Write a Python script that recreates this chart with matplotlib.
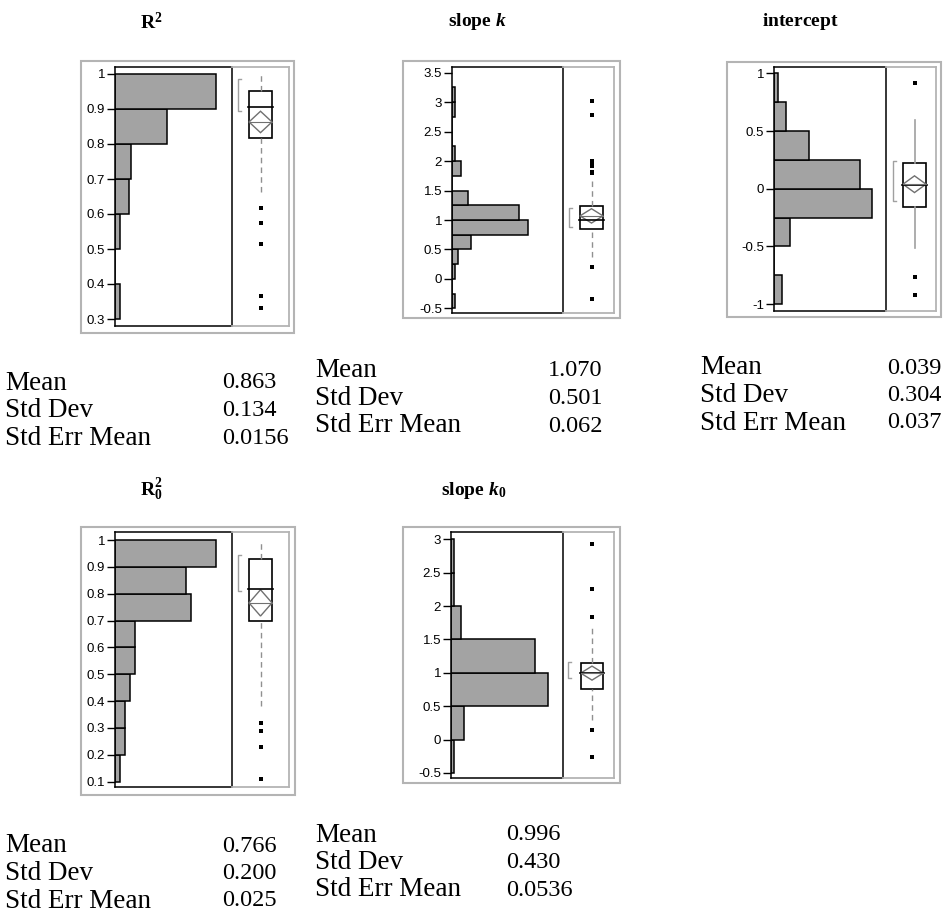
import numpy as np
import matplotlib
matplotlib.use('Agg')
import matplotlib.pyplot as plt
from matplotlib.patches import Rectangle, Polygon

W, H = 943, 915

plt.rcParams['font.family'] = ['Liberation Sans', 'DejaVu Sans']
plt.rcParams['mathtext.fontset'] = 'custom'
plt.rcParams['mathtext.rm'] = 'Liberation Serif:bold'
plt.rcParams['mathtext.it'] = 'Liberation Serif:bold:italic'
plt.rcParams['mathtext.bf'] = 'Liberation Serif:bold'

# ---- data ----
stat_names = ['Mean', 'Std Dev', 'Std Err Mean']

# R^2
r2_edges = [0.3, 0.4, 0.5, 0.6, 0.7, 0.8, 0.9, 1.0]
r2_counts = [2, 0, 2, 5, 6, 19, 37]
r2_ticks = [0.3, 0.4, 0.5, 0.6, 0.7, 0.8, 0.9, 1.0]
r2_quant = [0.664, 0.818, 0.905, 0.95, 1.0]      # whisker lo, q1, median, q3, whisker hi
r2_shorth = [0.895, 0.985]
r2_outliers = [0.618, 0.575, 0.514, 0.367, 0.332]
r2_stats = ['0.863', '0.134', '0.0156']

# slope k
k_edges = [-0.5, -0.25, 0, 0.25, 0.5, 0.75, 1.0, 1.25, 1.5, 1.75, 2.0, 2.25, 2.5, 2.75, 3.0, 3.25]
k_counts = [1, 0, 1, 2, 6, 24, 21, 5, 0, 3, 1, 0, 0, 1, 1]
k_ticks = [-0.5, 0, 0.5, 1, 1.5, 2, 2.5, 3, 3.5]
k_quant = [0.38, 0.842, 1.0, 1.237, 1.68]
k_shorth = [0.876, 1.198]
k_outliers = [3.02, 2.78, 2.0, 1.96, 1.915, 1.82, 1.79, 0.198, -0.345]
k_stats = ['1.070', '0.501', '0.062']

# intercept
b_edges = [-1.0, -0.75, -0.5, -0.25, 0, 0.25, 0.5, 0.75, 1.0]
b_counts = [2, 0, 4, 25, 22, 9, 3, 1]
b_ticks = [-1, -0.5, 0, 0.5, 1]
b_quant = [-0.51, -0.156, 0.032, 0.22, 0.595]
b_shorth = [-0.104, 0.243]
b_outliers = [0.913, -0.77, -0.92]
b_stats = ['0.039', '0.304', '0.037']

# R0^2
r02_edges = [0.1, 0.2, 0.3, 0.4, 0.5, 0.6, 0.7, 0.8, 0.9, 1.0]
r02_counts = [1, 2, 2, 3, 4, 4, 15, 14, 20]
r02_ticks = [0.1, 0.2, 0.3, 0.4, 0.5, 0.6, 0.7, 0.8, 0.9, 1.0]
r02_quant = [0.38, 0.70, 0.819, 0.929, 1.0]
r02_shorth = [0.81, 0.944]
r02_outliers = [0.32, 0.287, 0.23, 0.11]
r02_stats = ['0.766', '0.200', '0.025']

# slope k0
k0_edges = [-0.5, 0, 0.5, 1.0, 1.5, 2.0, 2.5, 3.0]
k0_counts = [1, 4, 29, 25, 3, 1, 1]
k0_ticks = [-0.5, 0, 0.5, 1, 1.5, 2, 2.5, 3]
k0_quant = [0.29, 0.765, 1.0, 1.15, 1.72]
k0_shorth = [0.93, 1.165]
k0_outliers = [2.93, 2.25, 1.83, 0.15, -0.26]
k0_stats = ['0.996', '0.430', '0.0536']


def rect(x0, y0, x1, y1):
    return [x0 / W, 1 - y1 / H, (x1 - x0) / W, (y1 - y0) / H]


fig = plt.figure(figsize=(W / 100, H / 100), dpi=100)

GRAY = '#b4b4b4'


def panel(title, title_xy, edges, counts, ticks, ylim, xfac, quant, mean, sem,
          shorth, outliers, stats, stat_xy, frame, hist, boxarea, boxx, brx,
          wstyle='--'):
    # outer frame
    fig.patches.append(Rectangle((frame[0] / W, 1 - frame[3] / H),
                                 (frame[2] - frame[0]) / W, (frame[3] - frame[1]) / H,
                                 transform=fig.transFigure, fill=False,
                                 edgecolor=GRAY, lw=1.5))
    # histogram
    ax = fig.add_axes(rect(hist[0], hist[1], hist[2], hist[3]))
    ax.barh(edges[:-1], counts, height=np.diff(edges), align='edge',
            color='#a3a3a3', edgecolor='black', lw=1.1)
    ax.set_ylim(ylim)
    ax.set_xlim(0, max(counts) * xfac)
    ax.set_xticks([])
    ax.set_yticks(ticks)
    ax.set_yticklabels([f'{t:g}' for t in ticks])
    ax.tick_params(axis='y', length=6, width=1.0, labelsize=9.5, pad=1)
    for s in ax.spines.values():
        s.set_linewidth(1.1)

    # box plot area
    bx = fig.add_axes(rect(boxarea[0], hist[1], boxarea[1], hist[3]))
    bx.set_xlim(boxarea[0], boxarea[1])
    bx.set_ylim(ylim)
    bx.set_xticks([])
    bx.set_yticks([])
    bx.patch.set_alpha(0)
    bx.spines['left'].set_visible(False)
    for k in ['top', 'bottom', 'right']:
        bx.spines[k].set_color(GRAY)
        bx.spines[k].set_linewidth(1.3)

    wlo, q1, med, q3, whi = quant
    c = (boxx[0] + boxx[1]) / 2
    if wstyle == '--':
        kw = dict(color='#909090', lw=1, dashes=(4, 3))
    else:
        kw = dict(color='#a0a0a0', lw=1.2)
    bx.plot([c, c], [q3, whi], **kw)
    bx.plot([c, c], [wlo, q1], **kw)
    bx.add_patch(Rectangle((boxx[0], q1), boxx[1] - boxx[0], q3 - q1,
                           fill=False, edgecolor='black', lw=1.2))
    bx.plot([boxx[0] - 1, boxx[1] + 1], [med, med], color='black', lw=1.2)
    lo, hi = mean - 1.96 * sem, mean + 1.96 * sem
    bx.add_patch(Polygon([(boxx[0], mean), (c, hi), (boxx[1], mean), (c, lo)],
                         closed=True, fill=False, edgecolor='#707070', lw=1))
    bx.plot([boxx[0], boxx[1]], [mean, mean], color='#707070', lw=0.8)
    # shortest half bracket
    bx.plot([brx + 3, brx, brx, brx + 3], [shorth[0], shorth[0], shorth[1], shorth[1]],
            color='#a0a0a0', lw=1)
    bx.plot([c] * len(outliers), outliers, 's', color='black', ms=2.3, mew=0)

    fig.text(title_xy[0] / W, 1 - title_xy[1] / H, title, ha='center', va='center',
             fontsize=14)
    lx, vx, y0 = stat_xy
    for i, (n, v) in enumerate(zip(stat_names, stats)):
        y = 1 - (y0 + 27.5 * i) / H
        fig.text(lx / W, y, n, ha='left', va='center', fontsize=19.5,
                 family='Liberation Serif')
        fig.text(vx / W, y, v, ha='left', va='center', fontsize=17.5,
                 family='Liberation Serif')


panel(r'$\mathrm{R}^{\mathrm{2}}$', (151, 22), r2_edges, r2_counts, r2_ticks,
      (0.28, 1.02), 1.162, r2_quant, 0.863, 0.0156, r2_shorth, r2_outliers,
      r2_stats, (5, 222, 383), (81, 61, 294, 333), (115, 67, 232, 326),
      (232, 289), (249, 272), 238)

panel(r'$\mathrm{slope}\ k$', (477, 22), k_edges, k_counts, k_ticks,
      (-0.582, 3.6), 1.455, k_quant, 1.070, 0.062, k_shorth, k_outliers,
      k_stats, (315, 548, 371), (403, 61, 620, 318), (451.7, 66.7, 563.3, 313.3),
      (563.3, 614), (580, 603), 569)

panel(r'$\mathrm{intercept}$', (800, 22), b_edges, b_counts, b_ticks,
      (-1.058, 1.058), 1.146, b_quant, 0.039, 0.037, b_shorth, b_outliers,
      b_stats, (700, 887, 368), (727, 62, 941, 317), (774, 66.7, 886, 310.7),
      (886, 936), (903, 926), 893, wstyle='-')

panel(r'$\mathrm{R}_{\mathrm{0}}^{\mathrm{2}}$', (151, 490), r02_edges, r02_counts,
      r02_ticks, (0.08, 1.029), 1.161, r02_quant, 0.766, 0.025, r02_shorth,
      r02_outliers, r02_stats, (5, 222, 846), (81, 527, 295, 795),
      (115, 532.3, 232.3, 787), (232.3, 289.3), (249, 272), 238.3)

panel(r'$\mathrm{slope}\ k_{0}$', (474, 490), k0_edges, k0_counts, k0_ticks,
      (-0.575, 3.105), 1.152, k0_quant, 0.996, 0.0536, k0_shorth, k0_outliers,
      k0_stats, (315, 506, 835), (403, 527, 620, 783), (450.7, 532.3, 563.3, 778),
      (563.3, 614), (580.7, 603.3), 568.3)

fig.savefig('out.png', dpi=100)
